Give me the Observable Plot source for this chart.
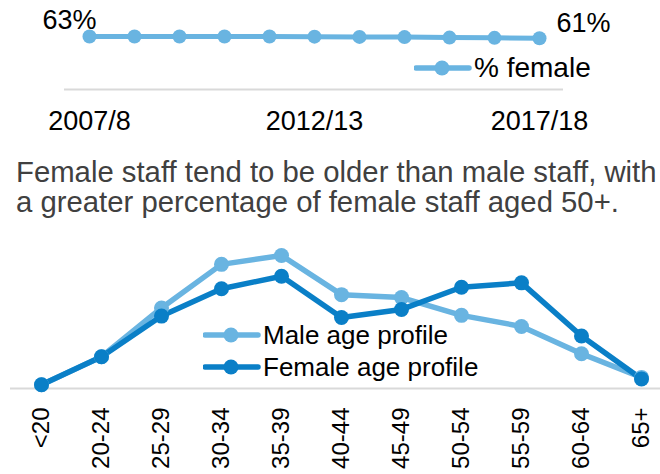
<!DOCTYPE html>
<html>
<head>
<meta charset="utf-8">
<script src="https://cdn.jsdelivr.net/npm/d3@7"></script>
<script src="https://cdn.jsdelivr.net/npm/@observablehq/plot@0.6"></script>
<style>
  html, body { margin: 0; padding: 0; background: #fff; }
  body { font-family: "Liberation Sans", Arial, sans-serif; }
  #page { position: relative; width: 660px; height: 474px; overflow: hidden; }
  .abs { position: absolute; }
  #para { left: 16px; top: 157px; font-size: 29.3px; line-height: 30px; color: #404040; white-space: nowrap; }
  .leg { display: flex; align-items: center; white-space: nowrap; color: #000; }
  .leg svg { display: block; }
</style>
</head>
<body>
<div id="page">
  <div id="top" class="abs" style="left:0;top:0"></div>
  <div id="para" class="abs">Female staff tend to be older than male staff, with<br>a greater percentage of female staff aged 50+.</div>
  <div id="bottom" class="abs" style="left:0;top:230px"></div>
</div>
<script>
// ---- data ----
const years = ["2007/8","2008/9","2009/10","2010/11","2011/12","2012/13","2013/14","2014/15","2015/16","2016/17","2017/18"];
const pctFemale = [63, 63, 63, 63, 63, 62.8, 62.5, 62.3, 61.7, 61.4, 61];
const yearTicks = ["2007/8", "2012/13", "2017/18"];

const ageGroups = ["<20","20-24","25-29","30-34","35-39","40-44","45-49","50-54","55-59","60-64","65+"];
const maleProfile = [0.5, 4.3, 10.9, 16.8, 18.0, 12.7, 12.3, 9.9, 8.4, 4.7, 1.5];
const femaleProfile = [0.5, 4.3, 9.8, 13.5, 15.2, 9.6, 10.7, 13.7, 14.3, 7.1, 1.3];

const seriesNames = ["Male age profile", "Female age profile"];
const lightBlue = "#69b4e1";
const darkBlue = "#0a7fc7";

// ---- top chart ----
const topData = years.map((y, i) => ({year: y, value: pctFemale[i]}));
const first = topData[0], last = topData[topData.length - 1];

const topChart = Plot.plot({
  width: 660, height: 140,
  marginLeft: 64, marginRight: 97, marginTop: 36, marginBottom: 51,
  style: {fontFamily: "Liberation Sans, Arial, sans-serif", color: "#000", background: "transparent"},
  x: {type: "point", domain: years, padding: 0.5, label: null},
  y: {domain: [0, 63], axis: null, label: null},
  marks: [
    Plot.ruleY([0], {stroke: "#d9d9d9", strokeWidth: 2}),
    Plot.axisX({ticks: yearTicks, tickSize: 0, tickPadding: 21, fontSize: 27, label: null}),
    Plot.line(topData, {x: "year", y: "value", stroke: lightBlue, strokeWidth: 5}),
    Plot.dot(topData, {x: "year", y: "value", r: 7, fill: lightBlue}),
    Plot.text([first], {x: "year", y: "value", text: d => d.value + "%", textAnchor: "end", dx: 7, dy: -16, fontSize: 27, fill: "#000"}),
    Plot.text([last], {x: "year", y: "value", text: d => d.value + "%", textAnchor: "start", dx: 17, dy: -15, fontSize: 27, fill: "#000"})
  ]
});
document.getElementById("top").appendChild(topChart);

// ---- bottom chart ----
const ageData = [];
ageGroups.forEach((g, i) => ageData.push({age: g, value: maleProfile[i], series: seriesNames[0]}));
ageGroups.forEach((g, i) => ageData.push({age: g, value: femaleProfile[i], series: seriesNames[1]}));

const bottomChart = Plot.plot({
  width: 660, height: 244,
  marginLeft: 10, marginRight: 0, marginTop: 25, marginBottom: 86,
  style: {fontFamily: "Liberation Sans, Arial, sans-serif", color: "#000", background: "transparent"},
  x: {type: "point", domain: ageGroups, range: [39, 643], padding: 0, label: null},
  y: {domain: [0, 18], axis: null, label: null},
  color: {domain: seriesNames, range: [lightBlue, darkBlue]},
  marks: [
    Plot.ruleY([0], {stroke: "#d9d9d9", strokeWidth: 2}),
    Plot.axisX({tickRotate: -90, tickSize: 0, tickPadding: 19, fontSize: 24, label: null}),
    Plot.line(ageData, {x: "age", y: "value", z: "series", stroke: "series", strokeWidth: 5.5}),
    Plot.dot(ageData, {x: "age", y: "value", fill: "series", r: 7.5})
  ]
});
document.getElementById("bottom").appendChild(bottomChart);

// ---- legends ----
function legendItem(left, centerY, color, label, fontSize) {
  const div = document.createElement("div");
  div.className = "abs leg";
  div.style.left = left + "px";
  div.style.top = (centerY - 15) + "px";
  div.style.height = "30px";
  div.style.fontSize = fontSize + "px";
  const ns = "http://www.w3.org/2000/svg";
  const svg = document.createElementNS(ns, "svg");
  svg.setAttribute("width", 58); svg.setAttribute("height", 30);
  const ln = document.createElementNS(ns, "line");
  ln.setAttribute("x1", 2); ln.setAttribute("x2", 55); ln.setAttribute("y1", 15); ln.setAttribute("y2", 15);
  ln.setAttribute("stroke", color); ln.setAttribute("stroke-width", 5.5); ln.setAttribute("stroke-linecap", "round");
  const c = document.createElementNS(ns, "circle");
  c.setAttribute("cx", 28); c.setAttribute("cy", 15); c.setAttribute("r", 7.5); c.setAttribute("fill", color);
  svg.appendChild(ln); svg.appendChild(c);
  const span = document.createElement("span");
  span.textContent = label;
  span.style.marginLeft = "2px";
  div.appendChild(svg); div.appendChild(span);
  document.getElementById("page").appendChild(div);
}
legendItem(414, 68, lightBlue, "% female", 28);
legendItem(203, 335, lightBlue, seriesNames[0], 26);
legendItem(203, 367, darkBlue, seriesNames[1], 26);
</script>
</body>
</html>
